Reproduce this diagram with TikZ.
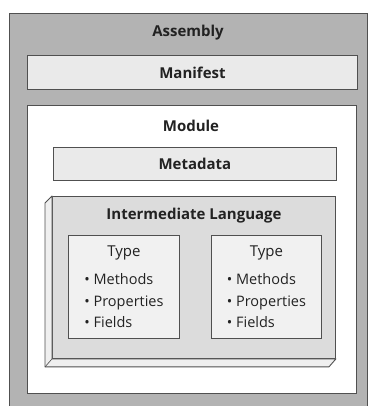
\documentclass[tikz,border=0pt]{standalone}
\usepackage{fontspec}
\setmainfont{Open Sans}
\usetikzlibrary{positioning}

\definecolor{asmgray}{HTML}{B3B3B3}
\definecolor{lightbox}{HTML}{EAEAEA}
\definecolor{ilface}{HTML}{DCDCDC}
\definecolor{ilbevel}{HTML}{EFEFEF}
\definecolor{typebox}{HTML}{F1F1F1}
\definecolor{edgegray}{HTML}{505050}
\definecolor{inkgray}{HTML}{222222}

\begin{document}
\begin{tikzpicture}[x=1pt,y=-1pt,
  frame/.style={draw=edgegray,line width=0.9pt,inner sep=0pt,anchor=north west},
  heading/.style={font=\bfseries\fontsize{15}{18}\selectfont,text=inkgray},
  entry/.style={font=\fontsize{14.5}{21.5}\selectfont,text=inkgray,align=left,inner sep=0pt}]
  \useasboundingbox (0,0) rectangle (369,406);
  % assembly
  \node[frame,fill=asmgray,minimum width=358pt,minimum height=420pt] (asm) at (9,13) {};
  \node[heading] (asmtitle) at (188,33) {Assembly};
  \node[frame,fill=lightbox,minimum width=330pt,minimum height=34pt] (manifest) at (27,55) {};
  \node[heading] at (manifest.center) {Manifest};
  % module
  \node[frame,fill=white,minimum width=329pt,minimum height=288pt] (module) at (27,105) {};
  \node[heading] (modtitle) at (191,126) {Module};
  \node[frame,fill=lightbox,minimum width=283pt,minimum height=33pt] (metadata) at (53,147) {};
  \node[heading] at (metadata.center) {Metadata};
  % intermediate language, raised block
  \node[frame,fill=ilface,minimum width=283pt,minimum height=162pt] (il) at (52,196) {};
  \draw[draw=edgegray,line width=0.9pt,fill=ilbevel,line join=round]
    (il.north west) -- ++(-7,7) -- ([shift={(-7,8)}]il.south west)
    -- ([shift={(-7,8)}]il.south east) -- (il.south east) -- (il.south west) -- cycle;
  \draw[draw=edgegray,line width=0.6pt] ([shift={(-7,8)}]il.south west) -- (il.south west);
  \node[heading] (iltitle) at (194,216) {Intermediate Language};
  % types
  \node[frame,fill=typebox,minimum width=111pt,minimum height=103pt] (typeA) at (68,235) {};
  \node[frame,fill=typebox,minimum width=110pt,minimum height=103pt] (typeB) at (211,235) {};
  \node[entry,font=\fontsize{15}{18}\selectfont] (typeAtitle) at ([yshift=-18pt]typeA.north) {Type};
  \node[entry,font=\fontsize{15}{18}\selectfont] (typeBtitle) at ([yshift=-18pt]typeB.north) {Type};
  \node[entry,below=13pt of typeAtitle] {\textbullet\ Methods\\\textbullet\ Properties\\\textbullet\ Fields};
  \node[entry,below=13pt of typeBtitle] {\textbullet\ Methods\\\textbullet\ Properties\\\textbullet\ Fields};
\end{tikzpicture}
\end{document}
